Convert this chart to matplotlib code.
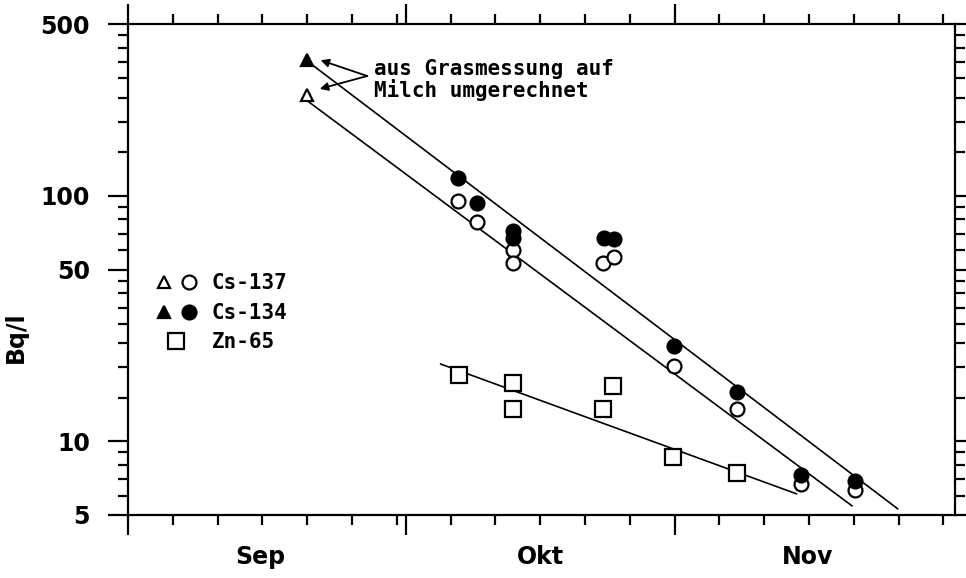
import matplotlib
matplotlib.use("Agg")
import matplotlib.pyplot as plt
from matplotlib.lines import Line2D
from matplotlib.legend_handler import HandlerTuple
from matplotlib.transforms import blended_transform_factory

# ---------------- data ----------------
# x = day number on the chart's time axis (Sep tick = 0, Okt tick = 31, Nov tick = 61)
cs137_grass_day = [20.0]
cs137_grass_val = [257]
cs134_grass_day = [20.0]
cs134_grass_val = [356]

cs137_day = [36.8, 39.0, 43.0, 43.0, 53.0, 54.2, 60.9, 68.0, 75.1, 81.1]
cs137_val = [95, 78, 60, 53, 53, 56, 20.2, 13.5, 6.7, 6.3]

cs134_day = [36.8, 39.0, 43.0, 43.0, 53.1, 54.2, 60.9, 68.0, 75.1, 81.1]
cs134_val = [118, 93.5, 72, 67, 67, 66.4, 24.3, 15.8, 7.3, 6.9]

zn65_day = [36.9, 43.0, 43.0, 53.0, 54.1, 60.8, 68.0]
zn65_val = [18.6, 17.3, 13.5, 13.5, 16.8, 8.6, 7.4]

cs134_fit_day = [20.6, 85.9]
cs134_fit_val = [340, 5.3]
cs137_fit_day = [19.9, 80.8]
cs137_fit_val = [245, 5.45]
zn65_fit_day = [34.9, 74.6]
zn65_fit_val = [20.6, 6.1]

month_labels = ["Sep", "Okt", "Nov"]
month_label_pos = [14.8, 46.0, 75.9]
month_ticks = [0, 31, 61]
day_ticks = [5, 10, 15, 20, 25, 30, 36, 41, 46, 51, 56, 66, 71, 76, 81, 86, 91]

y_major = [5, 10, 50, 100, 500]
y_major_labels = ["5", "10", "50", "100", "500"]
y_minor = [6, 7, 8, 9, 15, 20, 25, 30, 35, 40, 45, 60, 70, 80, 90,
           150, 200, 250, 300, 350, 400, 450]

annot_text = "aus Grasmessung auf\nMilch umgerechnet"

# ---------------- figure ----------------
fig = plt.figure(figsize=(9.66, 5.78), dpi=100)
ax = fig.add_axes([128 / 966, 63 / 578, 827 / 966, 491 / 578])
ax.set_yscale("log")
ax.set_xlim(0, 92.3)
ax.set_ylim(5, 500)

lw_axis = 1.6
for s in ax.spines.values():
    s.set_linewidth(lw_axis)

ax.set_xticks(month_ticks)
ax.set_xticks(day_ticks, minor=True)
ax.set_xticklabels([])
ax.set_yticks(y_major)
ax.set_yticklabels(y_major_labels)
ax.set_yticks(y_minor, minor=True)
ax.yaxis.set_minor_formatter(plt.NullFormatter())

ax.tick_params(which="both", direction="out", top=True, right=True, width=lw_axis,
               color="black")
ax.tick_params(which="major", length=14.4)
ax.tick_params(which="minor", length=7.2)
ax.tick_params(axis="y", which="major", pad=13, labelsize=17)
for lab in ax.get_yticklabels():
    lab.set_fontweight("bold")

# month labels
trans = blended_transform_factory(ax.transData, ax.transAxes)
for pos, lab in zip(month_label_pos, month_labels):
    ax.text(pos, -0.085, lab, transform=trans, ha="center", va="center",
            fontsize=17, fontweight="bold", clip_on=False)

ax.set_ylabel("Bq/l", fontsize=17, fontweight="bold")
ax.yaxis.set_label_coords(-0.121, 0.3625)

# fit lines
ax.plot(cs134_fit_day, cs134_fit_val, color="black", lw=1.2, zorder=2)
ax.plot(cs137_fit_day, cs137_fit_val, color="black", lw=1.2, zorder=2)
ax.plot(zn65_fit_day, zn65_fit_val, color="black", lw=1.2, zorder=2)

# points
ms_c = 10
mew = 1.6
ax.plot(cs137_day, cs137_val, "o", ms=ms_c, mfc="white", mec="black", mew=mew,
        ls="none", zorder=3)
ax.plot(cs134_day, cs134_val, "o", ms=ms_c, mfc="black", mec="black", mew=mew,
        ls="none", zorder=4)
ax.plot(zn65_day, zn65_val, "s", ms=12, mfc="white", mec="black", mew=mew,
        ls="none", zorder=3)
ax.plot(cs137_grass_day, cs137_grass_val, "^", ms=9, mfc="white", mec="black",
        mew=mew, ls="none", zorder=4)
ax.plot(cs134_grass_day, cs134_grass_val, "^", ms=9, mfc="black", mec="black",
        mew=mew, ls="none", zorder=4)

# annotation
vertex = (26.7, 307)
for tip in [(21.5, 356), (21.4, 272)]:
    ax.annotate("", xy=tip, xytext=vertex,
                arrowprops=dict(arrowstyle="-|>", color="black", lw=1.3,
                                mutation_scale=12, shrinkA=0, shrinkB=0))
ax.text(27.5, 296, annot_text, ha="left", va="center", fontsize=15,
        family="DejaVu Sans Mono", fontweight="bold", linespacing=1.0)

# legend
h137 = (Line2D([], [], marker="^", ms=9, mfc="white", mec="black", mew=mew, ls="none"),
        Line2D([], [], marker="o", ms=ms_c, mfc="white", mec="black", mew=mew, ls="none"))
h134 = (Line2D([], [], marker="^", ms=9, mfc="black", mec="black", mew=mew, ls="none"),
        Line2D([], [], marker="o", ms=ms_c, mfc="black", mec="black", mew=mew, ls="none"))
hzn = Line2D([], [], marker="s", ms=12, mfc="white", mec="black", mew=mew, ls="none")
leg = ax.legend([h137, h134, hzn], ["Cs-137", "Cs-134", "Zn-65"],
                handler_map={tuple: HandlerTuple(ndivide=None, pad=0.3)},
                loc="upper left", bbox_to_anchor=(0.032, 0.492), frameon=False,
                borderpad=0, borderaxespad=0, handlelength=2.1, handletextpad=0.65,
                labelspacing=0.45,
                prop={"family": "DejaVu Sans Mono", "weight": "bold", "size": 15})

fig.savefig("out.png", dpi=100)
